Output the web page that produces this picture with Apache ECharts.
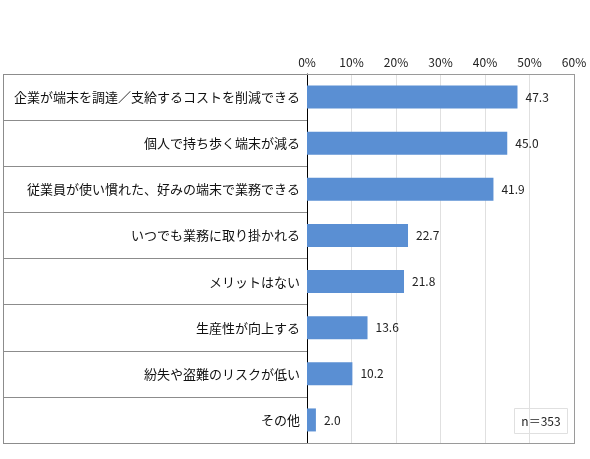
<!DOCTYPE html>
<html lang="ja">
  <head>
    <meta charset="UTF-8" />
    <title>BYOD メリット</title>
    <script src="https://cdn.jsdelivr.net/npm/echarts@6/dist/echarts.min.js"></script>
    <style>
      html, body { margin: 0; padding: 0; background: #fff; }
    </style>
  </head>
  <body>
    <div id="main" style="width: 590px; height: 459px"></div>
    <script type="text/javascript">
      // categories (top to bottom) and values in %
      const categories = [
        "企業が端末を調達／支給するコストを削減できる",
        "個人で持ち歩く端末が減る",
        "従業員が使い慣れた、好みの端末で業務できる",
        "いつでも業務に取り掛かれる",
        "メリットはない",
        "生産性が向上する",
        "紛失や盗難のリスクが低い",
        "その他",
      ];
      const values = [47.3, 45.0, 41.9, 22.7, 21.8, 13.6, 10.2, 2.0];
      const sampleNote = "n＝353";

      const font = "'Noto Sans CJK JP', sans-serif";
      const frameStyle = { stroke: "#9a9a9a", lineWidth: 1 };

      let myChart = echarts.init(document.getElementById("main"));
      let options = {
        animation: false,
        textStyle: { fontFamily: font },
        grid: { left: 307, right: 16, top: 74, bottom: 16 },
        xAxis: {
          type: "value",
          position: "top",
          min: 0,
          max: 60,
          interval: 10,
          axisLine: { show: false },
          axisTick: { show: false },
          axisLabel: {
            formatter: "{value}%",
            color: "#222",
            fontSize: 12,
            margin: 6,
            fontFamily: font,
          },
          splitLine: { show: true, lineStyle: { color: "#e0e0e0" } },
        },
        yAxis: {
          type: "category",
          inverse: true,
          data: categories,
          boundaryGap: true,
          axisLine: { show: true, lineStyle: { color: "#000", width: 1 } },
          // long ticks form the row lines of the label table
          axisTick: {
            show: true,
            alignWithLabel: false,
            interval: 0,
            length: 304,
            lineStyle: { color: "#8c8c8c", width: 1 },
          },
          axisLabel: {
            color: "#111",
            fontSize: 13,
            margin: 7,
            fontFamily: font,
          },
        },
        graphic: [
          // plot frame (top, right, bottom) and left edge of the label table
          {
            type: "line",
            z: 10,
            silent: true,
            shape: { x1: 307, y1: 74.5, x2: 575, y2: 74.5 },
            style: frameStyle,
          },
          {
            type: "line",
            z: 10,
            silent: true,
            shape: { x1: 574.5, y1: 74, x2: 574.5, y2: 444 },
            style: frameStyle,
          },
          {
            type: "line",
            z: 10,
            silent: true,
            shape: { x1: 307, y1: 443.5, x2: 575, y2: 443.5 },
            style: frameStyle,
          },
          {
            type: "line",
            z: 10,
            silent: true,
            shape: { x1: 3.5, y1: 74, x2: 3.5, y2: 444 },
            style: { stroke: "#8c8c8c", lineWidth: 1 },
          },
          {
            type: "rect",
            shape: { x: 514.5, y: 408.5, width: 53, height: 25 },
            style: { fill: "#fff", stroke: "#e0e0e0", lineWidth: 1 },
          },
          {
            type: "text",
            x: 541,
            y: 421,
            style: {
              text: sampleNote,
              fill: "#222",
              fontSize: 12,
              fontFamily: font,
              align: "center",
              verticalAlign: "middle",
            },
          },
        ],
        series: [
          {
            type: "bar",
            data: values,
            barWidth: 23,
            itemStyle: { color: "#5a8fd3" },
            label: {
              show: true,
              position: "right",
              distance: 8,
              color: "#222",
              fontSize: 12,
              fontFamily: font,
              formatter: (p) => p.value.toFixed(1),
            },
          },
        ],
      };
      myChart.setOption(options);
    </script>
  </body>
</html>
